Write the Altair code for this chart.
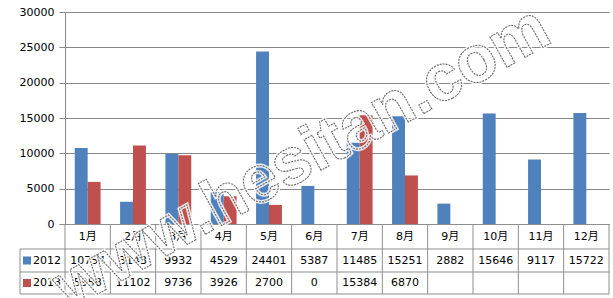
import altair as alt
import pandas as pd

months = ["1月", "2月", "3月", "4月", "5月", "6月", "7月", "8月", "9月", "10月", "11月", "12月"]
series_names = ["2012", "2013"]
values_2012 = [10754, 3143, 9932, 4529, 24401, 5387, 11485, 15251, 2882, 15646, 9117, 15722]
values_2013 = [5958, 11102, 9736, 3926, 2700, 0, 15384, 6870, None, None, None, None]
colors = ["#4F81BD", "#C0504D"]
y_ticks = [0, 5000, 10000, 15000, 20000, 25000, 30000]
watermark = "www.hesitan.com"

rows = []
for name, vals in zip(series_names, [values_2012, values_2013]):
    for m, v in zip(months, vals):
        rows.append({"month": m, "series": name, "value": v,
                     "label": "" if v is None else str(v)})
df = pd.DataFrame(rows)
bars_df = df.dropna(subset=["value"])
month_df = pd.DataFrame({"month": months})

FONT = "DejaVu Sans, Noto Sans CJK SC"
GRID = "#878787"
LINE = "#8e8e8e"
W, H = 544, 212
ROW_TOP = [212, 237, 260, 282]
ROW_MID = [224.5, 248.5, 271]
P_IN = 0.43
STEP = W / len(months)

xscale = alt.Scale(domain=months, paddingInner=P_IN, paddingOuter=P_IN / 2)
color_scale = alt.Scale(domain=series_names, range=colors)

bars = alt.Chart(bars_df).mark_bar().encode(
    x=alt.X("month:N", scale=xscale, sort=months,
            axis=alt.Axis(title=None, labels=False, ticks=False, domainColor=LINE)),
    xOffset=alt.XOffset("series:N", sort=series_names),
    y=alt.Y("value:Q", scale=alt.Scale(domain=[0, 30000], nice=False),
            axis=alt.Axis(title=None, values=y_ticks, format="d", labelFont=FONT,
                          labelFontSize=11, labelColor="#000000", gridColor=GRID,
                          domainColor=GRID, tickColor=GRID, tickSize=6, labelPadding=5)),
    color=alt.Color("series:N", scale=color_scale, legend=None),
)

layers = [bars]

# month header row
layers.append(
    alt.Chart(month_df).mark_text(font=FONT, fontSize=11, color="#000000", baseline="middle").encode(
        x=alt.X("month:N", scale=xscale, sort=months),
        y=alt.value(ROW_MID[0]),
        text="month:N",
    )
)

# table value rows
for i, name in enumerate(series_names):
    sub = df[df["series"] == name]
    layers.append(
        alt.Chart(sub).mark_text(font=FONT, fontSize=11, color="#000000", baseline="middle").encode(
            x=alt.X("month:N", scale=xscale, sort=months),
            y=alt.value(ROW_MID[i + 1]),
            text="label:N",
        )
    )
    leg = pd.DataFrame({"series": [name]})
    layers.append(
        alt.Chart(leg).mark_square(size=64, opacity=1).encode(
            x=alt.value(-38), y=alt.value(ROW_MID[i + 1]),
            color=alt.Color("series:N", scale=color_scale, legend=None),
        )
    )
    layers.append(
        alt.Chart(leg).mark_text(font=FONT, fontSize=11, color="#000000", align="left",
                                 baseline="middle").encode(
            x=alt.value(-32), y=alt.value(ROW_MID[i + 1]), text="series:N",
        )
    )

# table vertical lines at the column boundaries
layers.append(
    alt.Chart(month_df).mark_rule(color=LINE, strokeWidth=1, xOffset=-P_IN * STEP / 2).encode(
        x=alt.X("month:N", scale=xscale, sort=months, bandPosition=0),
        y=alt.value(ROW_TOP[0]), y2=alt.value(ROW_TOP[3]),
    )
)
layers.append(
    alt.Chart(pd.DataFrame({"a": [0]})).mark_rule(color=LINE, strokeWidth=1).encode(
        x=alt.value(W), y=alt.value(ROW_TOP[0]), y2=alt.value(ROW_TOP[3])
    )
)
# table horizontal lines
for yv in ROW_TOP[1:]:
    layers.append(
        alt.Chart(pd.DataFrame({"a": [0]})).mark_rule(color=LINE, strokeWidth=1).encode(
            x=alt.value(-45), x2=alt.value(W), y=alt.value(yv)
        )
    )
# left vertical line of the legend column
layers.append(
    alt.Chart(pd.DataFrame({"a": [0]})).mark_rule(color=LINE, strokeWidth=1).encode(
        x=alt.value(-45), y=alt.value(ROW_TOP[1]), y2=alt.value(ROW_TOP[3])
    )
)

# watermark
wm = pd.DataFrame({"t": [watermark]})
layers.append(
    alt.Chart(wm).mark_text(font="Liberation Sans", fontWeight="bold", fontSize=66, angle=331,
                            align="center", baseline="middle", fillOpacity=0, stroke="#ffffff",
                            strokeWidth=4, strokeOpacity=0.85).encode(
        x=alt.value(237), y=alt.value(146), text="t:N"
    )
)
layers.append(
    alt.Chart(wm).mark_text(font="Liberation Sans", fontWeight="bold", fontSize=66, angle=331,
                            align="center", baseline="middle", fillOpacity=0, stroke="#6a6a6a",
                            strokeWidth=1.1, strokeDash=[2, 1]).encode(
        x=alt.value(237), y=alt.value(146), text="t:N"
    )
)

chart = alt.layer(*layers).properties(
    width=W, height=H, background="#ffffff",
    autosize=alt.AutoSizeParams(type="none"),
    padding={"left": 65, "top": 12, "right": 4, "bottom": 74},
).configure_view(strokeWidth=0)

chart.save("out.html", embed_options={"renderer": "svg", "actions": False})
